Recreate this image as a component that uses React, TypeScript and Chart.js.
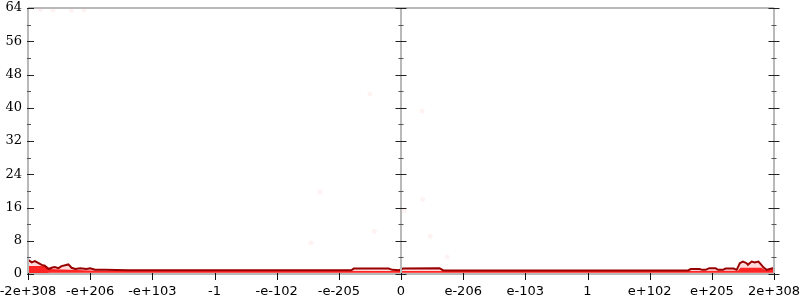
import React, { useEffect, useRef } from "react";
import { Chart, registerables } from "chart.js";

Chart.register(...registerables);

const tickLabels = ["-2e+308", "-e+206", "-e+103", "-1", "-e-102", "-e-205", "0", "e-206", "e-103", "1", "e+102", "e+205", "2e+308"];
const tickPositions = [-6, -5, -4, -3, -2, -1, 0, 1, 2, 3, 4, 5, 6];

const maxX = [-6, -5.94, -5.89, -5.83, -5.78, -5.73, -5.67, -5.62, -5.57, -5.51, -5.46, -5.35, -5.3, -5.24, -5.16, -5.06, -5.0, -4.92, -4.76, -4.4, -0.8, -0.76, -0.2, -0.14, -0.03, 0.03, 0.62, 0.68, 4.62, 4.66, 4.8, 4.85, 4.9, 4.96, 5.06, 5.1, 5.18, 5.22, 5.35, 5.4, 5.45, 5.5, 5.56, 5.58, 5.64, 5.69, 5.75, 5.79, 5.83, 5.88, 5.93, 5.98, 6];
const maxY = [3.4, 2.8, 3.1, 2.6, 2.2, 2.0, 1.2, 1.5, 1.7, 1.4, 1.9, 2.3, 1.5, 1.2, 1.4, 1.2, 1.4, 1.05, 1.0, 0.9, 0.9, 1.3, 1.3, 1.0, 0.9, 1.3, 1.4, 0.85, 0.85, 1.2, 1.2, 1.0, 1.0, 1.4, 1.4, 1.0, 1.0, 1.3, 1.3, 1.0, 2.6, 3.0, 2.6, 2.2, 3.0, 2.8, 3.0, 2.3, 1.6, 1.0, 1.2, 1.4, 1.4];

const bandX = [-6, -5.7, -5.65, -4.9, 0, 4.6, 5.42, 5.46, 5.8, 5.86, 5.95, 6];
const bandHi = [1.9, 1.9, 1.2, 0.8, 0.75, 0.72, 0.8, 1.5, 1.5, 0.9, 1.1, 1.6];
const bandLo = [0.25, 0.25, 0.3, 0.3, 0.3, 0.3, 0.3, 0.3, 0.3, 0.3, 0.3, 0.3];

const dotsX = [-0.5, 0.34, -1.3, 0.35, 0.05, -0.43, -1.45, 0.47, 0.74, -5.8, -5.6, -5.3, -5.1];
const dotsY = [43.3, 39.2, 19.7, 18.0, 15.2, 10.3, 7.5, 9.1, 4.1, 63.6, 63.6, 63.4, 63.6];

const toPts = (xs: number[], ys: number[]) => xs.map((x, i) => ({ x, y: ys[i] }));

const axesPlugin = {
  id: "customAxes",
  afterDatasetsDraw(chart: any) {
    const { ctx, chartArea, scales } = chart;
    const xs = scales.x;
    const ys = scales.y;
    const left = chartArea.left;
    const right = chartArea.right;
    const top = chartArea.top;
    const bottom = chartArea.bottom;
    const cx = xs.getPixelForValue(0);
    ctx.save();
    ctx.strokeStyle = "#b9b9b9";
    ctx.lineWidth = 2;
    ctx.beginPath();
    ctx.moveTo(left, top);
    ctx.lineTo(right, top);
    ctx.moveTo(left, bottom);
    ctx.lineTo(right, bottom);
    ctx.moveTo(left, top);
    ctx.lineTo(left, bottom);
    ctx.moveTo(cx, top);
    ctx.lineTo(cx, bottom);
    ctx.moveTo(right, top);
    ctx.lineTo(right, bottom);
    ctx.stroke();

    ctx.lineWidth = 1;
    for (let v = 0; v <= 64; v += 4) {
      const major = v % 8 === 0;
      const py = Math.round(ys.getPixelForValue(v)) + 0.5;
      ctx.strokeStyle = major ? "#222" : "#555";
      ctx.beginPath();
      ctx.moveTo(left - 1, py);
      ctx.lineTo(left + (major ? 6 : 3), py);
      const h = major ? 5.5 : 2.5;
      ctx.moveTo(cx - h, py);
      ctx.lineTo(cx + h, py);
      ctx.moveTo(right - h, py);
      ctx.lineTo(right + h, py);
      ctx.stroke();
    }
    ctx.strokeStyle = "#111";
    for (const t of tickPositions) {
      const px = Math.round(xs.getPixelForValue(t)) + 0.5;
      ctx.beginPath();
      ctx.moveTo(px, bottom - 1);
      ctx.lineTo(px, bottom + 6);
      ctx.stroke();
    }
    ctx.restore();
  },
};

export default function App() {
  const ref = useRef<HTMLCanvasElement | null>(null);
  useEffect(() => {
    document.body.style.margin = "0";
    if (!ref.current) return;
    const chart = new Chart(ref.current, {
      type: "line",
      data: {
        datasets: [
          {
            label: "max",
            data: toPts(maxX, maxY),
            borderColor: "#990000",
            borderWidth: 2,
            backgroundColor: "rgba(255,0,0,0.14)",
            fill: "origin",
            pointRadius: 0,
            tension: 0,
          },
          {
            label: "hi",
            data: toPts(bandX, bandHi),
            borderWidth: 0,
            borderColor: "rgba(0,0,0,0)",
            backgroundColor: "rgba(255,20,20,0.9)",
            fill: "+1",
            pointRadius: 0,
            tension: 0,
          },
          {
            label: "lo",
            data: toPts(bandX, bandLo),
            borderWidth: 0,
            borderColor: "rgba(0,0,0,0)",
            fill: false,
            pointRadius: 0,
            tension: 0,
          },
          {
            label: "dots",
            data: toPts(dotsX, dotsY),
            showLine: false,
            pointRadius: 2.5,
            pointBorderWidth: 0,
            pointBackgroundColor: "rgba(255,0,0,0.05)",
            fill: false,
          },
        ],
      },
      options: {
        animation: false,
        responsive: false,
        maintainAspectRatio: false,
        layout: { padding: { top: 8, right: 26, left: 0, bottom: 0 } },
        plugins: { legend: { display: false }, tooltip: { enabled: false } },
        scales: {
          x: {
            type: "linear",
            min: -6,
            max: 6,
            grid: { display: false, drawTicks: true, tickLength: 8 },
            border: { display: false },
            afterBuildTicks: (scale: any) => {
              scale.ticks = tickPositions.map((v) => ({ value: v }));
            },
            afterFit: (scale: any) => {
              scale.height = 26;
              scale.paddingLeft = 0;
              scale.paddingRight = 0;
            },
            ticks: {
              autoSkip: false,
              maxRotation: 0,
              padding: 2,
              color: "#000",
              font: { family: "DejaVu Sans", size: 13 },
              callback: (v: any) => {
                const i = tickPositions.indexOf(Number(v));
                return i >= 0 ? tickLabels[i] : "";
              },
            },
          },
          y: {
            min: 0,
            max: 64,
            grid: { display: false, drawTicks: false },
            border: { display: false },
            afterFit: (scale: any) => {
              scale.width = 28;
              scale.paddingTop = 0;
              scale.paddingBottom = 0;
            },
            ticks: {
              stepSize: 8,
              padding: 6,
              color: "#000",
              font: { family: "DejaVu Serif", size: 13 },
            },
          },
        },
      },
      plugins: [axesPlugin],
    } as any);
    return () => chart.destroy();
  }, []);
  return (
    <div style={{ position: "absolute", left: 0, top: 0, width: 800, height: 300 }}>
      <canvas ref={ref} width={800} height={300} style={{ display: "block", width: 800, height: 300 }} />
    </div>
  );
}
